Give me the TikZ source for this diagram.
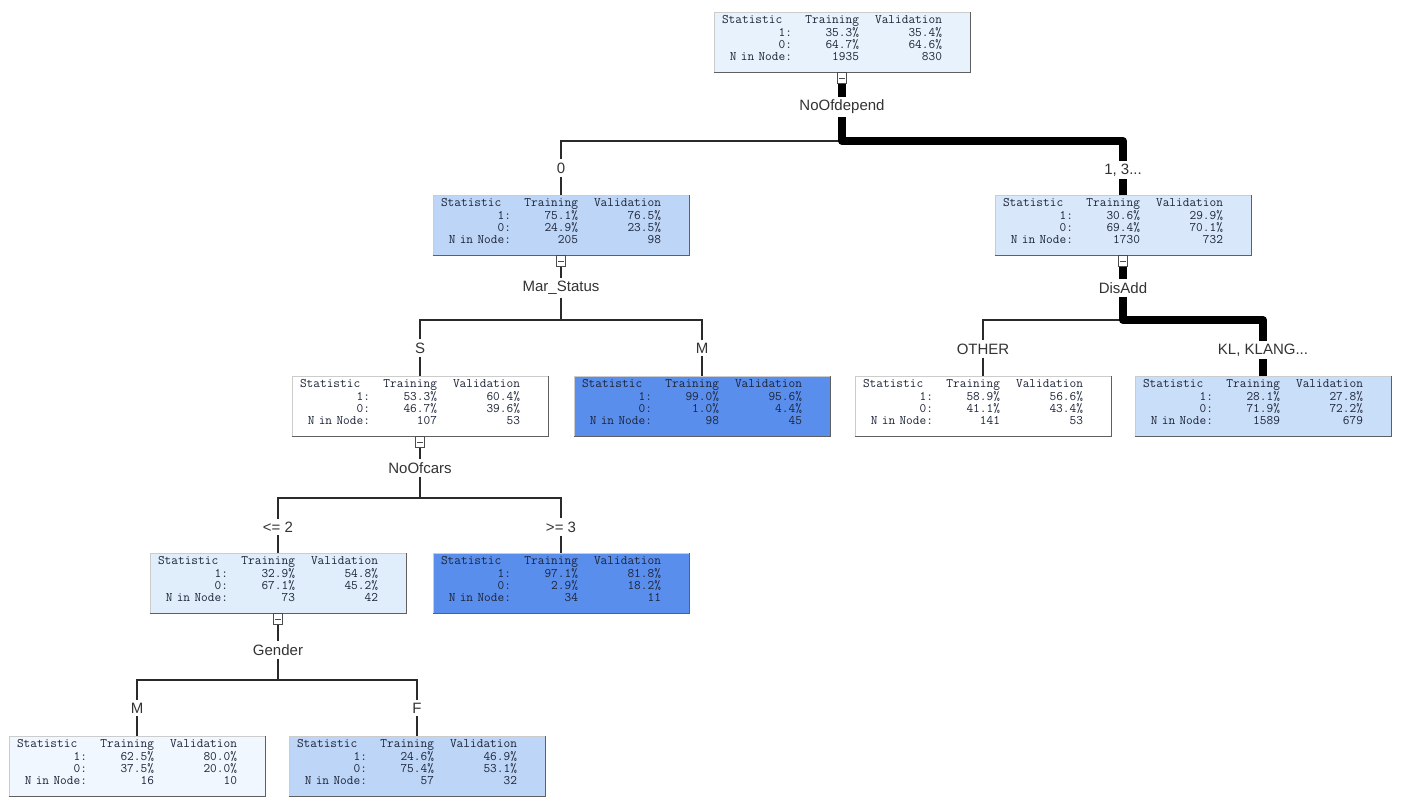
\documentclass[tikz,border=0pt]{standalone}
\usepackage{fontspec}
\setmainfont{Liberation Sans}
\usetikzlibrary{positioning}
\definecolor{rootblue}{HTML}{E8F2FC}
\definecolor{midblue}{HTML}{BDD5F6}
\definecolor{paleblue}{HTML}{D8E8FA}
\definecolor{lightblue}{HTML}{C9DEF9}
\definecolor{lowblue}{HTML}{E0EEFC}
\definecolor{whiteblue}{HTML}{F0F7FE}
\definecolor{deepblue}{HTML}{5A8EEC}
\definecolor{statink}{HTML}{1C2438}
\definecolor{labelgray}{HTML}{333333}
\definecolor{edgegray}{HTML}{2A2A2A}

\newcommand{\statrows}[6]{%
\makebox[70pt][l]{Statistic}\makebox[67pt][r]{Training}\makebox[83pt][r]{Validation}\\[1pt]
\makebox[70pt][r]{1:}\makebox[67pt][r]{#1}\makebox[83pt][r]{#2}\\
\makebox[70pt][r]{0:}\makebox[67pt][r]{#3}\makebox[83pt][r]{#4}\\
\makebox[70pt][r]{N in Node:}\makebox[67pt][r]{#5}\makebox[83pt][r]{#6}\rule[-8pt]{0pt}{8pt}}

\begin{document}
\begin{tikzpicture}[
			x=1pt,
			y=-1pt,
			font=\fontsize{15}{17}\selectfont,
			statbox/.style={draw=gray!40, line width=0.8pt, text width=240pt, align=left, inner xsep=8pt, inner ysep=0pt, minimum height=60pt, font=\ttfamily\fontsize{13}{12}\selectfont, text=statink},
			splitlabel/.style={text=labelgray, inner sep=3pt},
			toggle/.style={draw=gray!60!black, fill=white, line width=0.7pt, minimum width=9pt, minimum height=11pt, inner sep=0pt,
				path picture={\draw[line width=0.8pt] ([xshift=1.5pt]path picture bounding box.west) -- ([xshift=-1.5pt]path picture bounding box.east);}},
			edge/.style={line width=1.3pt, draw=edgegray},
			pathedge/.style={line width=8pt, draw=black, line join=round},
			boxshade/.style={line width=1.6pt, draw=gray!75!black}
		]
			\useasboundingbox[fill=white] (0,0) rectangle (1401,796);

			\node[statbox, fill=rootblue]  (root)   at (842,42)   {\statrows{35.3\%}{35.4\%}{64.7\%}{64.6\%}{1935}{830}};
			\node[statbox, fill=midblue]   (n0)     at (561,225)  {\statrows{75.1\%}{76.5\%}{24.9\%}{23.5\%}{205}{98}};
			\node[statbox, fill=paleblue]  (n13)    at (1123,225) {\statrows{30.6\%}{29.9\%}{69.4\%}{70.1\%}{1730}{732}};
			\node[statbox, fill=white]     (nS)     at (420,406)  {\statrows{53.3\%}{60.4\%}{46.7\%}{39.6\%}{107}{53}};
			\node[statbox, fill=deepblue]  (nM)     at (702,406)  {\statrows{99.0\%}{95.6\%}{1.0\%}{4.4\%}{98}{45}};
			\node[statbox, fill=white]     (nOther) at (983,406)  {\statrows{58.9\%}{56.6\%}{41.1\%}{43.4\%}{141}{53}};
			\node[statbox, fill=lightblue] (nKL)    at (1263,406) {\statrows{28.1\%}{27.8\%}{71.9\%}{72.2\%}{1589}{679}};
			\node[statbox, fill=lowblue]   (nLe)    at (278,583)  {\statrows{32.9\%}{54.8\%}{67.1\%}{45.2\%}{73}{42}};
			\node[statbox, fill=deepblue]  (nGe)    at (561,583)  {\statrows{97.1\%}{81.8\%}{2.9\%}{18.2\%}{34}{11}};
			\node[statbox, fill=whiteblue] (nGM)    at (137,766)  {\statrows{62.5\%}{80.0\%}{37.5\%}{20.0\%}{16}{10}};
			\node[statbox, fill=midblue]   (nGF)    at (417,766)  {\statrows{24.6\%}{46.9\%}{75.4\%}{53.1\%}{57}{32}};

			\foreach \n in {root,n0,n13,nS,nM,nOther,nKL,nLe,nGe,nGM,nGF}
				\draw[boxshade] (\n.south west) -- (\n.south east) -- (\n.north east);

			\node[splitlabel] (lNoOf)  at (842,107)  {NoOfdepend};
			\node[splitlabel] (l0)     at (561,168)  {0};
			\node[splitlabel] (l13)    at (1123,170) {1, 3...};
			\node[splitlabel] (lMar)   at (561,288)  {Mar\_Status};
			\node[splitlabel] (lDis)   at (1123,288) {DisAdd};
			\node[splitlabel] (lS)     at (420,348)  {S};
			\node[splitlabel] (lM)     at (702,348)  {M};
			\node[splitlabel] (lOther) at (983,349)  {OTHER};
			\node[splitlabel] (lKL)    at (1263,350) {KL, KLANG...};
			\node[splitlabel] (lCars)  at (420,468)  {NoOfcars};
			\node[splitlabel] (lLe)    at (278,527)  {<= 2};
			\node[splitlabel] (lGe)    at (561,527)  {>= 3};
			\node[splitlabel] (lGen)   at (278,650)  {Gender};
			\node[splitlabel] (lGM)    at (137,708)  {M};
			\node[splitlabel] (lGF)    at (417,708)  {F};

			\coordinate (j0)   at (842,141);
			\coordinate (jMar) at (561,320);
			\coordinate (jDis) at (1123,320);
			\coordinate (jCars) at (420,498);
			\coordinate (jGen) at (278,680);

			% thin branches
			\draw[edge] (j0) -| (l0.north);
			\draw[edge] (l0.south) -- (n0.north);

			\draw[edge] (n0.south) -- (lMar.north);
			\draw[edge] (lMar.south) -- (jMar);
			\draw[edge] (lS.north) |- (jMar) -| (lM.north);
			\draw[edge] (lS.south) -- (nS.north);
			\draw[edge] (lM.south) -- (nM.north);

			\draw[edge] (jDis) -| (lOther.north);
			\draw[edge] (lOther.south) -- (nOther.north);

			\draw[edge] (nS.south) -- (lCars.north);
			\draw[edge] (lCars.south) -- (jCars);
			\draw[edge] (lLe.north) |- (jCars) -| (lGe.north);
			\draw[edge] (lLe.south) -- (nLe.north);
			\draw[edge] (lGe.south) -- (nGe.north);

			\draw[edge] (nLe.south) -- (lGen.north);
			\draw[edge] (lGen.south) -- (jGen);
			\draw[edge] (lGM.north) |- (jGen) -| (lGF.north);
			\draw[edge] (lGM.south) -- (nGM.north);
			\draw[edge] (lGF.south) -- (nGF.north);

			% heaviest path
			\draw[pathedge] (root.south) -- (lNoOf.north);
			\draw[pathedge] (lNoOf.south) -- (j0) -| (l13.north);
			\draw[pathedge] (l13.south) -- (n13.north);
			\draw[pathedge] (n13.south) -- (lDis.north);
			\draw[pathedge] (lDis.south) -- (jDis) -| (lKL.north);
			\draw[pathedge] (lKL.south) -- (nKL.north);

			\node[toggle, below=0pt of root] (troot) {};
			\node[toggle, below=0pt of n0]   (tn0)   {};
			\node[toggle, below=0pt of n13]  (tn13)  {};
			\node[toggle, below=0pt of nS]   (tnS)   {};
			\node[toggle, below=0pt of nLe]  (tnLe)  {};
		\end{tikzpicture}
\end{document}
